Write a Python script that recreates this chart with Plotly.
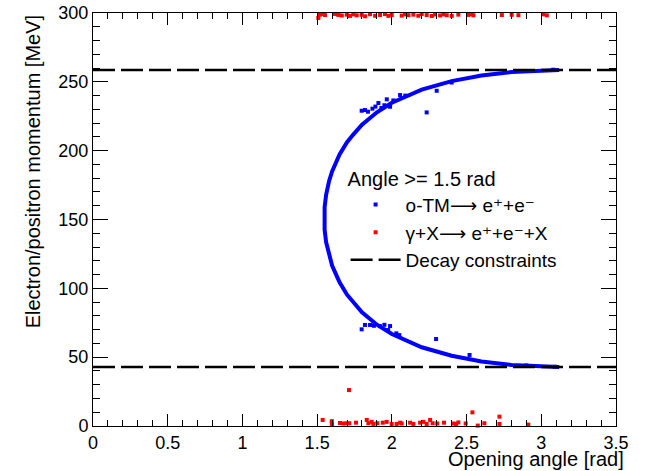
import plotly.graph_objects as go

# ---------------- data ----------------
# main o-TM band (angle [rad], momentum [MeV])
band_angle = [3.12, 3.0, 2.8, 2.6, 2.4, 2.2, 2.0, 1.9, 1.8, 1.74, 1.7, 1.65, 1.6, 1.58,
              1.56, 1.55, 1.547, 1.55, 1.56, 1.58, 1.6, 1.65, 1.7, 1.8, 1.9, 2.0, 2.2,
              2.4, 2.6, 2.8, 3.0, 3.12]
band_mom = [258.6, 258.3, 257.1, 254.6, 250.5, 244.3, 234.8, 227.9, 218.9, 211.5, 206.1,
            197.3, 184.9, 178.0, 167.9, 158.9, 150.7, 142.6, 133.5, 123.5, 116.6, 104.3,
            95.4, 82.6, 73.6, 66.8, 57.2, 51.0, 46.9, 44.4, 43.2, 42.9]

# scattered o-TM points off the band
otm_angle = [1.798, 1.82, 1.84, 1.87, 1.89, 1.91, 1.93, 1.95, 1.966, 1.988, 2.01, 2.055,
             2.09, 2.233, 2.30, 2.40, 3.08,
             1.798, 1.82, 1.854, 1.88, 1.92, 1.95, 1.975, 1.988, 2.03, 2.05, 2.296,
             2.52, 2.90, 3.09]
otm_mom = [229.0, 229.5, 228.3, 230.5, 232.0, 234.6, 231.0, 233.0, 237.3, 231.9, 236.5,
           240.4, 240.0, 227.8, 243.5, 249.5, 258.8,
           70.2, 73.4, 73.4, 72.8, 72.6, 73.5, 69.7, 72.6, 67.3, 66.0, 63.2,
           51.6, 44.0, 43.0]

# gamma + X background points
bkg_angle = [1.537, 1.598, 1.600, 1.598, 1.653, 1.676, 1.698, 1.715, 1.713, 1.760, 1.832,
             1.843, 1.865, 1.876, 1.903, 1.939, 1.965, 1.999, 2.032, 2.055, 2.066, 2.122,
             2.144, 2.189, 2.211, 2.233, 2.256, 2.273, 2.304, 2.349, 2.412, 2.430, 2.445,
             2.494, 2.539, 2.575, 2.619, 2.720, 2.720, 2.913,
             1.508, 1.519, 1.542, 1.553, 1.620, 1.642, 1.665, 1.698, 1.720, 1.742, 1.765,
             1.798, 1.821, 1.854, 1.888, 1.921, 1.954, 1.977, 1.999, 2.066, 2.088, 2.111,
             2.144, 2.177, 2.200, 2.233, 2.267, 2.289, 2.323, 2.345, 2.367, 2.401, 2.445,
             2.512, 2.535, 2.546, 2.736, 2.802, 2.847, 3.014, 3.037]
bkg_mom = [4.4, 2.0, 0.8, 3.5, 2.2, 1.8, 2.0, 2.0, 26.1, 2.4, 4.4,
           2.0, 3.0, 1.5, 2.0, 2.4, 3.0, 1.5, 1.5, 2.4, 1.8, 2.4,
           1.5, 2.4, 3.0, 1.5, 4.4, 2.0, 1.8, 2.4, 1.8, 1.5, 2.6,
           1.8, 9.9, 0.3, 2.0, 6.8, 1.5, 1.0,
           296.4, 298.8, 299.2, 298.5, 299.3, 298.6, 298.2, 298.8, 297.9, 299.0, 298.3,
           298.7, 297.6, 299.1, 298.0, 298.6, 299.2, 297.9, 298.5, 298.1, 299.0, 298.4,
           298.8, 298.0, 299.3, 298.5, 297.8, 298.9, 298.2, 299.0, 298.4, 297.9, 298.8,
           298.6, 299.1, 298.3, 298.5, 298.7, 298.4, 299.0, 298.3]

# decay constraints (max / min momentum)
constraint_mom = [258.6, 42.9]

x_range = [0, 3.5]
y_range = [0, 300]

FONT = "Liberation Sans, Arial, Helvetica, DejaVu Sans, sans-serif"
ARROW = "\u27f6"

fig = go.Figure()

# band (drawn as a thick line of blue points)
fig.add_trace(go.Scatter(x=band_angle, y=band_mom, mode="lines",
                         line=dict(color="#0000ff", width=4),
                         showlegend=False, hoverinfo="skip"))

fig.add_trace(go.Scatter(x=otm_angle, y=otm_mom, mode="markers",
                         name="o-TM" + ARROW + " e\u207a+e\u207b",
                         marker=dict(color="#0000ff", size=4, symbol="square",
                                     line=dict(width=0))))

fig.add_trace(go.Scatter(x=bkg_angle, y=bkg_mom, mode="markers",
                         name="\u03b3+X" + ARROW + " e\u207a+e\u207b+X",
                         cliponaxis=False,
                         marker=dict(color="#ff0000", size=4, symbol="square",
                                     line=dict(width=0))))

cx, cy = [], []
for m in constraint_mom:
    cx += [x_range[0], x_range[1], None]
    cy += [m, m, None]
fig.add_trace(go.Scatter(x=cx, y=cy, mode="lines", name="Decay constraints",
                         line=dict(color="black", width=2.5, dash="22px,6px")))

axis_common = dict(showline=True, linecolor="black", linewidth=1, mirror="allticks",
                   ticks="inside", tickcolor="black", showgrid=False, zeroline=False,
                   automargin=False,
                   tickfont=dict(family=FONT, size=18, color="black"))

fig.update_xaxes(range=x_range, dtick=0.5, tick0=0, ticklen=12,
                 minor=dict(dtick=0.1, ticklen=6, ticks="inside", tickcolor="black"),
                 **axis_common)
fig.update_yaxes(range=y_range, dtick=50, tick0=0, ticklen=15,
                 minor=dict(dtick=10, ticklen=7, ticks="inside", tickcolor="black"),
                 **axis_common)

fig.update_layout(
    width=646, height=471,
    margin=dict(l=93, r=30, t=13, b=45, autoexpand=False),
    paper_bgcolor="white", plot_bgcolor="white",
    font=dict(family=FONT, color="black"),
    legend=dict(x=0.483, y=0.645, xanchor="left", yanchor="top",
                title=dict(text="Angle >= 1.5 rad", font=dict(family=FONT, size=20)),
                font=dict(family=FONT, size=19), itemwidth=50,
                bgcolor="rgba(0,0,0,0)", borderwidth=0, tracegroupgap=0),
    annotations=[
        dict(text="Opening angle [rad]", xref="paper", yref="paper",
             x=1.019, y=-0.079, xanchor="right", yanchor="middle", showarrow=False,
             font=dict(family=FONT, size=20, color="black")),
        dict(text="Electron/positron momentum [MeV]", xref="paper", yref="paper",
             x=-0.115, y=1.0, xanchor="center", yanchor="top", textangle=-90,
             showarrow=False, font=dict(family=FONT, size=20, color="black")),
    ],
)

fig.write_html("out.html",
               config={"displayModeBar": False},
               post_script="document.body.style.margin='0px';document.body.style.padding='0px';")
